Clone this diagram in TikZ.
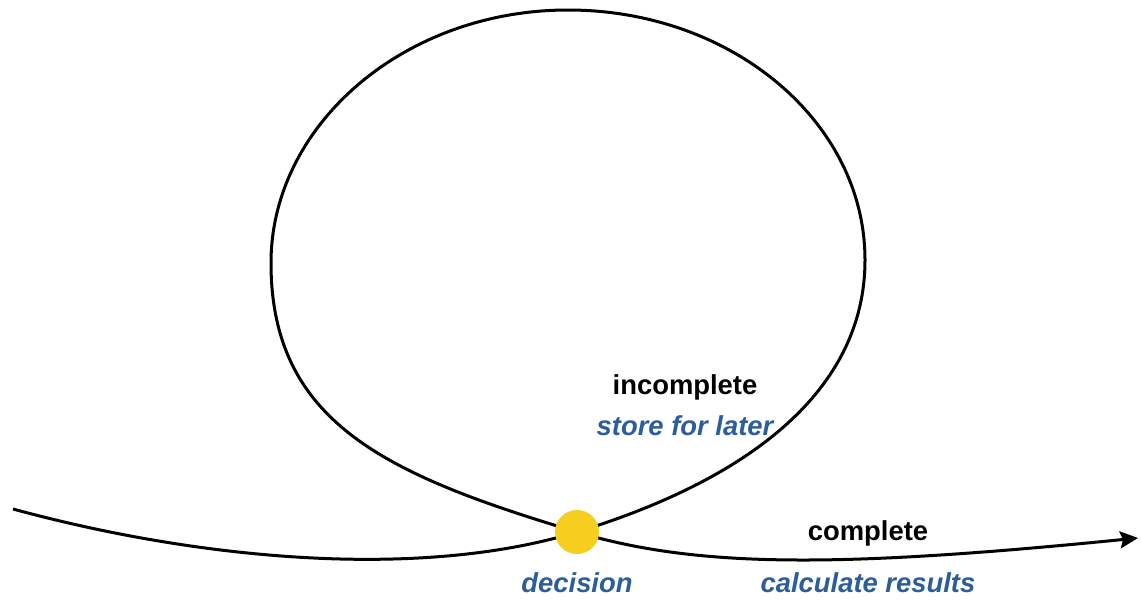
\documentclass[tikz,border=0pt]{standalone}
\usepackage{fontspec}
\setmainfont{Liberation Sans}
\usetikzlibrary{arrows.meta}
\definecolor{noteblue}{RGB}{44,94,156}
\definecolor{decyellow}{RGB}{246,206,32}
\begin{document}
\begin{tikzpicture}[x=0.5pt,y=-0.5pt,
  flow/.style={line width=1.5pt, black},
  state/.style={font=\fontsize{13.7}{16}\selectfont\bfseries, anchor=base, inner sep=0pt},
  action/.style={state, font=\fontsize{13.7}{16}\selectfont\bfseries\itshape, text=noteblue},
  hub/.style={circle, fill=decyellow, minimum size=22pt, inner sep=0pt}]
\useasboundingbox[fill=white] (0,0) rectangle (1141,600);

% points of the path
\coordinate (start) at (13,509);
\coordinate (cross) at (577,532);
\coordinate (right) at (865,260);
\coordinate (top) at (568,10);
\coordinate (left) at (271,263);
\coordinate (tip) at (1138,538);

% the path: in from the left, once around the loop, out to the right
\draw[flow, -{Stealth[length=9pt,width=8.5pt,inset=1.5pt]}]
  (start) .. controls (200,560) and (420,580) .. (cross)
  .. controls (750,479) and (865,390) .. (right)
  .. controls (865,122) and (732,10) .. (top)
  .. controls (404,10) and (271,125) .. (left)
  .. controls (271,423) and (387,475) .. (cross)
  .. controls (697,568) and (838,568) .. (tip);

% decision point
\node[hub] (hubdot) at (cross) {};

% labels
\node[state]  (incomplete) at (685,394) {incomplete};
\node[action] (store)      at (685,435) {store for later};
\node[state]  (complete)   at (868,540) {complete};
\node[action] (calc)       at (868,592) {calculate results};
\node[action] (decision)   at (577,592) {decision};
\end{tikzpicture}
\end{document}
